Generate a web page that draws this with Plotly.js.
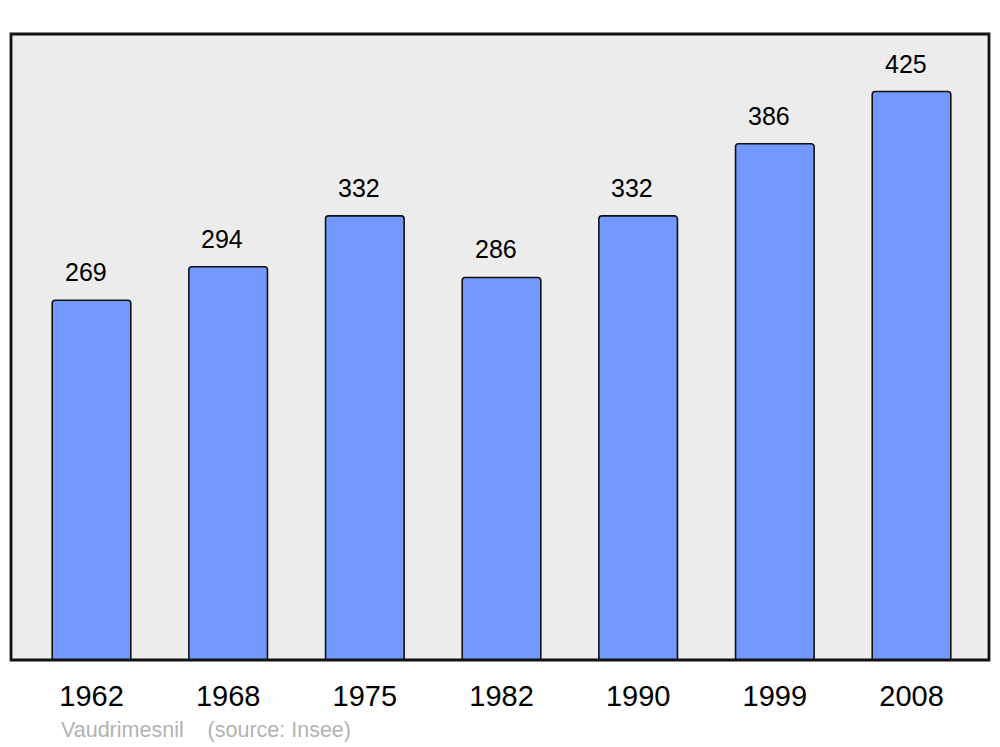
<!DOCTYPE html>
<html><head><meta charset="utf-8">
<script src="https://cdn.plot.ly/plotly-3.0.1.min.js"></script>
<style>body{margin:0;background:#fff}#c{width:1000px;height:747px}</style>
</head><body><div id="c"></div>
<script>
const years = ["1962","1968","1975","1982","1990","1999","2008"];
const population = [269,294,332,286,332,386,425];
const caption = "Vaudrimesnil    (source: Insee)";

const trace = {
  type: 'bar', x: years, y: population, width: 0.575,
  marker: {color: '#7399ff', line: {color: '#111', width: 1.6}, cornerradius: 3},
  hoverinfo: 'none'
};
const annotations = population.map((v, i) => ({
  x: i, y: v, xref: 'x', yref: 'y', text: String(v),
  showarrow: false, yanchor: 'bottom', yshift: 12, xshift: -6,
  font: {family: 'Liberation Sans, Arial, sans-serif', size: 25, color: '#000'}
}));
annotations.push({
  xref: 'paper', yref: 'paper', x: 0.049, y: -0.112, xanchor: 'left', yanchor: 'middle',
  text: caption, showarrow: false,
  font: {family: 'Liberation Sans, Arial, sans-serif', size: 21.5, color: '#b3b3b3'}
});
const layout = {
  width: 1000, height: 747,
  margin: {l: 11, r: 11, t: 34, b: 87},
  paper_bgcolor: '#fff', plot_bgcolor: '#ececec',
  showlegend: false,
  xaxis: {type: 'category', range: [-0.589, 6.567], showgrid: false, zeroline: false,
    showline: false, ticks: '', ticklabelstandoff: 16,
    tickfont: {family: 'Liberation Sans, Arial, sans-serif', size: 29, color: '#000'}},
  yaxis: {range: [0, 468], showgrid: false, zeroline: false, showticklabels: false, showline: false},
  shapes: [{type: 'rect', xref: 'paper', yref: 'paper', x0: 0, x1: 1, y0: 0, y1: 1,
    line: {color: '#111', width: 2.8}, layer: 'above'}],
  annotations: annotations
};
Plotly.newPlot('c', [trace], layout, {staticPlot: true});
</script></body></html>
